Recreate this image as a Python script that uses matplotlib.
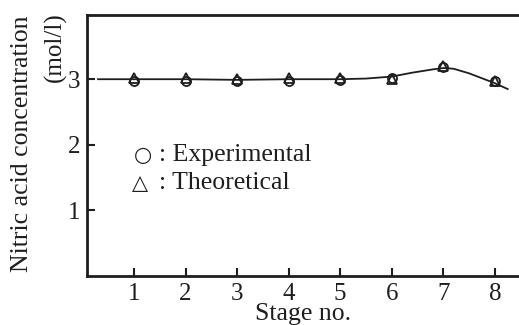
import matplotlib.pyplot as plt

# values
stages = [1, 2, 3, 4, 5, 6, 7, 8]
experimental = [2.97, 2.98, 2.97, 2.98, 2.99, 3.02, 3.19, 2.98]
theoretical = [3.02, 3.02, 3.01, 3.02, 3.02, 3.01, 3.2, 2.98]
curve_x = [0.3, 1, 2, 3, 4, 5, 5.5, 6, 6.4, 6.8, 7.0, 7.2, 7.5, 7.8, 8.0, 8.25]
curve_y = [3.0, 3.0, 3.0, 2.99, 3.0, 3.0, 3.01, 3.04, 3.1, 3.15, 3.17, 3.16, 3.09, 3.0, 2.94, 2.85]

ink = '#1e1e1e'
plt.rcParams['font.family'] = ['Liberation Serif', 'DejaVu Sans']

fig = plt.figure(figsize=(5.19, 3.25), dpi=100)
ax = fig.add_axes([0.168, 0.151, 0.832, 0.803])

ax.plot(curve_x, curve_y, color=ink, lw=1.3, zorder=2)
ax.plot(stages, experimental, 'o', ms=6.5, mfc='none', mec=ink, mew=1.3, zorder=3)
ax.plot(stages, theoretical, '^', ms=6.5, mfc='none', mec=ink, mew=1.3, zorder=3)

ax.set_xlim(0.09, 8.47)
ax.set_ylim(0, 3.98)
ax.set_xticks(stages)
ax.set_yticks([1, 2, 3])
ax.tick_params(direction='in', length=6, width=1.5, colors=ink, labelsize=18, pad=5)
ax.spines['right'].set_visible(False)
for s in ['left', 'bottom', 'top']:
    ax.spines[s].set_linewidth(2)
    ax.spines[s].set_color(ink)

ax.set_xlabel('Stage no.', fontsize=18.5, color=ink, labelpad=-1)
fig.text(0.043, 0.557, 'Nitric acid concentration', rotation=90, fontsize=18.5,
         color=ink, ha='center', va='center')
fig.text(0.106, 0.962, '(mol/l)', rotation=90, fontsize=18,
         color=ink, ha='center', va='top')

# legend written as text, as in the figure
ax.text(1.0, 1.85, '\u25cb', fontsize=15, family='DejaVu Sans', color=ink, va='center')
ax.text(0.96, 1.42, '\u25b3', fontsize=15, family='DejaVu Sans', color=ink, va='center')
ax.text(1.48, 1.85, ': Experimental', fontsize=18.5, color=ink, va='center')
ax.text(1.48, 1.42, ': Theoretical', fontsize=18.5, color=ink, va='center')

fig.savefig('out.png', dpi=100)
